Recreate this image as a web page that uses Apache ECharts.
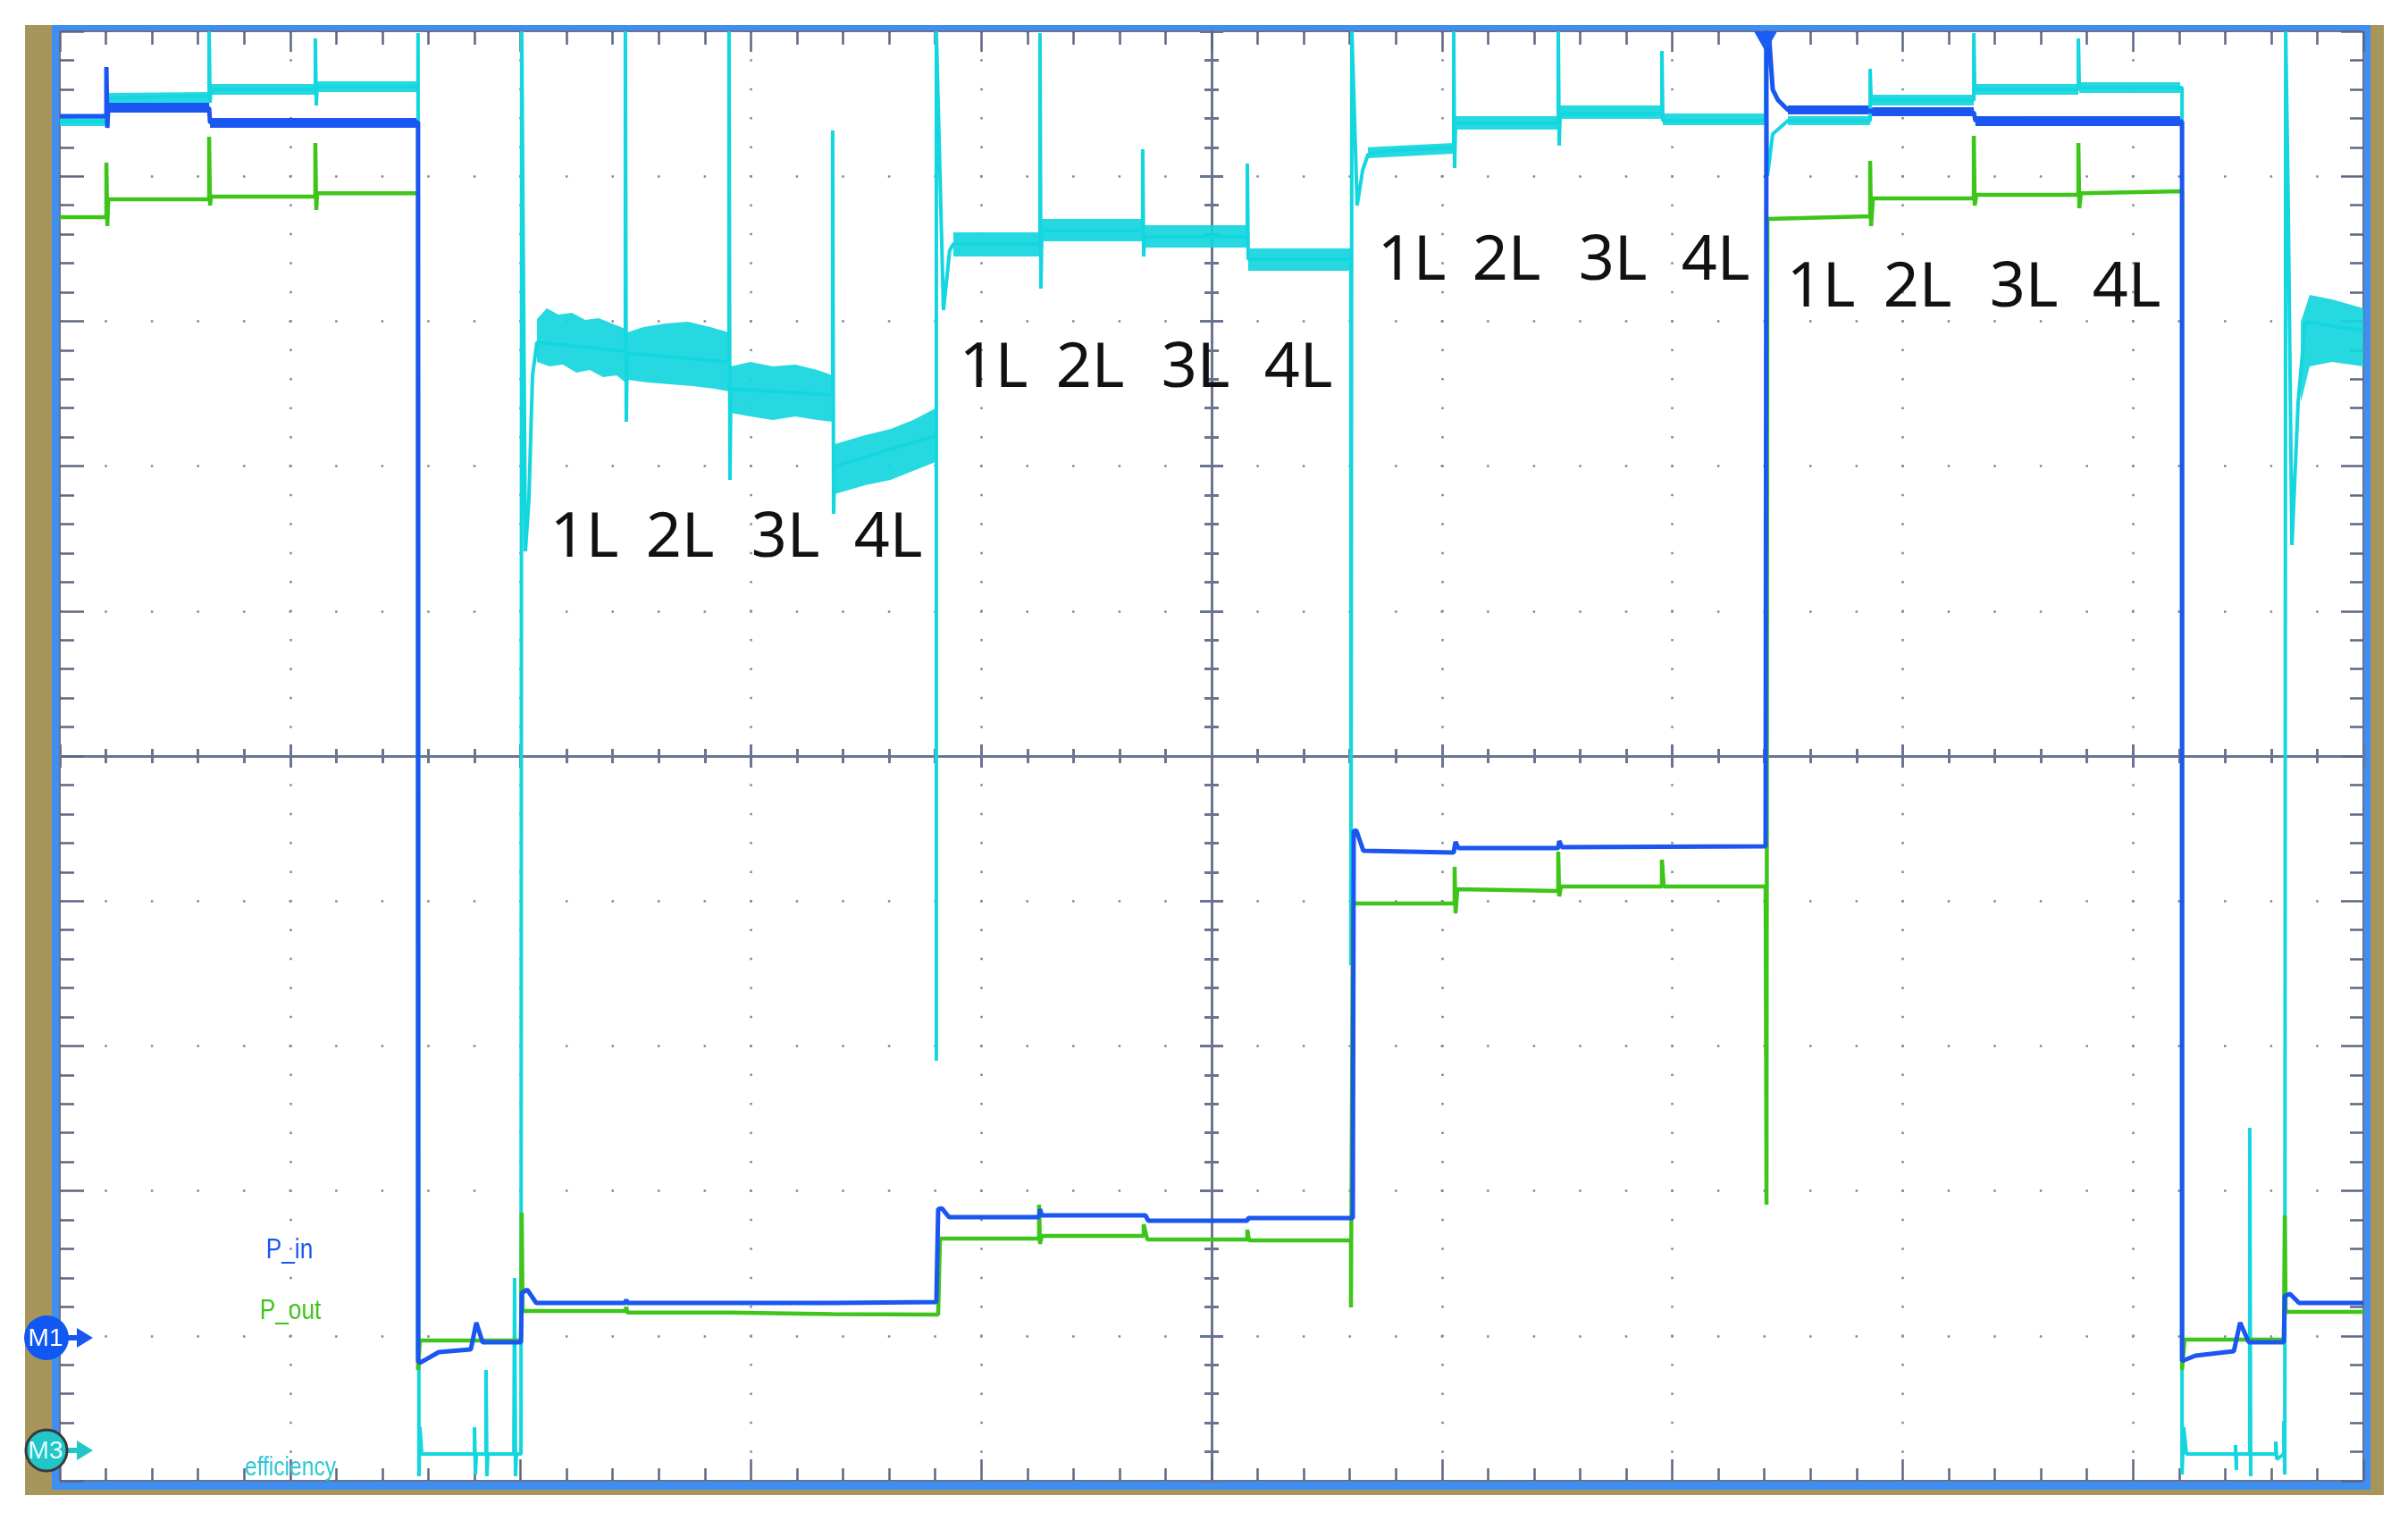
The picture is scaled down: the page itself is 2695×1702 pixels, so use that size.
<!DOCTYPE html>
<html>
<head>
<meta charset="utf-8">
<script src="https://cdn.jsdelivr.net/npm/echarts@6/dist/echarts.min.js"></script>
<style>html,body{margin:0;padding:0;background:#fff}#c{width:2695px;height:1702px}</style>
</head>
<body>
<div id="c"></div>
<script>
// ---- values in oscilloscope divisions (x: time div from centre, y: div from centre) ----
const pInTrace = [
  [-5.000,4.414],[-4.798,4.414],[-4.798,4.753],[-4.794,4.334],[-4.790,4.476],[-4.352,4.470],[-4.348,4.371],[-3.445,4.371],
  [-3.445,-4.174],[-3.437,-4.186],[-3.417,-4.168],[-3.355,-4.112],[-3.216,-4.094],[-3.192,-3.909],[-3.165,-4.044],[-2.998,-4.044],
  [-2.995,-3.705],[-2.971,-3.681],[-2.932,-3.773],[-2.545,-3.773],[-2.541,-3.750],[-2.537,-3.773],[-2.095,-3.773],[-1.645,-3.773],[-1.195,-3.767],
  [-1.191,-3.767],[-1.187,-3.126],[-1.171,-3.120],[-1.140,-3.181],[-0.749,-3.181],[-0.745,-3.126],[-0.737,-3.169],[-0.287,-3.169],[-0.275,-3.206],[0.155,-3.206],[0.159,-3.187],[0.605,-3.187],
  [0.613,-3.187],[0.617,-0.518],[0.628,-0.512],[0.659,-0.654],[1.051,-0.666],[1.059,-0.592],[1.071,-0.635],[1.505,-0.635],[1.509,-0.586],[1.521,-0.629],[2.405,-0.623],
  [2.409,5.000],[2.420,4.969],[2.436,4.599],[2.459,4.525],[2.502,4.457],[2.859,4.451],[2.867,4.445],[3.309,4.439],[3.316,4.383],[4.213,4.377],
  [4.213,-4.174],[4.220,-4.186],[4.271,-4.137],[4.438,-4.106],[4.465,-3.909],[4.503,-4.044],[4.655,-4.044],[4.659,-3.724],[4.682,-3.711],[4.721,-3.773],[5.000,-3.773]
];
const pOutTrace = [
  [-5.000,3.718],[-4.798,3.718],[-4.798,4.094],[-4.794,3.656],[-4.790,3.841],[-4.352,3.841],[-4.352,4.273],[-4.348,3.798],[-4.344,3.859],[-3.891,3.859],[-3.891,4.229],[-3.887,3.767],[-3.883,3.883],[-3.445,3.883],
  [-3.445,-4.236],[-3.437,-4.032],[-2.998,-4.032],[-2.995,-3.150],[-2.991,-3.829],[-2.545,-3.829],[-2.541,-3.800],[-2.537,-3.840],[-2.095,-3.840],[-1.645,-3.850],[-1.195,-3.853],
  [-1.187,-3.853],[-1.179,-3.329],[-0.749,-3.329],[-0.749,-3.095],[-0.745,-3.366],[-0.737,-3.311],[-0.295,-3.311],[-0.295,-3.231],[-0.279,-3.335],[0.155,-3.335],[0.155,-3.268],[0.163,-3.342],[0.605,-3.342],
  [0.605,-3.804],[0.609,-2.472],[0.613,-0.999],[0.621,-1.017],[1.055,-1.017],[1.055,-0.765],[1.059,-1.085],[1.067,-0.919],[1.505,-0.931],[1.505,-0.660],[1.509,-0.968],[1.517,-0.900],[1.955,-0.900],[1.955,-0.715],[1.963,-0.900],[2.405,-0.900],
  [2.409,-3.095],[2.413,3.705],[2.859,3.724],[2.859,4.106],[2.863,3.656],[2.871,3.847],[3.309,3.847],[3.309,4.279],[3.313,3.798],[3.320,3.871],[3.763,3.871],[3.763,4.229],[3.767,3.779],[3.774,3.883],[4.213,3.896],
  [4.213,-4.236],[4.224,-4.026],[4.655,-4.026],[4.659,-3.169],[4.663,-3.835],[5.000,-3.835]
];
const effTrace = [
  [-5.000,4.377],[-4.798,4.377],[-4.794,4.538],[-4.352,4.556],[-4.352,5.000],[-4.348,4.507],[-4.344,4.599],[-3.891,4.599],[-3.891,4.951],[-3.887,4.488],[-3.883,4.618],[-3.445,4.618],
  [-3.445,4.988],[-3.441,-4.969],[-3.437,-4.630],[-3.429,-4.815],[-3.200,-4.815],[-3.200,-4.630],[-3.196,-4.957],[-3.192,-4.815],[-3.150,-4.815],[-3.150,-4.236],[-3.146,-4.969],[-3.142,-4.815],[-3.029,-4.815],[-3.026,-3.600],[-3.022,-4.969],[-3.018,-4.815],[-2.998,-4.815],
  [-2.995,-4.815],[-2.995,5.000],[-2.979,1.412],[-2.964,1.763],[-2.948,2.626],[-2.929,2.855],[-2.545,2.793],
  [-2.545,5.000],[-2.541,2.306],[-2.537,2.781],[-2.095,2.719],
  [-2.095,5.000],[-2.091,1.905],[-2.087,2.534],[-1.645,2.491],
  [-1.645,4.316],[-1.641,1.671],[-1.637,1.998],[-1.195,2.213],
  [-1.195,-2.102],[-1.195,5.000],[-1.164,3.076],[-1.137,3.490],[-1.121,3.533],[-0.745,3.533],
  [-0.745,4.988],[-0.741,3.224],[-0.737,3.625],[-0.299,3.625],
  [-0.299,4.186],[-0.295,3.446],[-0.291,3.582],[0.155,3.582],
  [0.155,4.088],[0.159,3.428],[0.605,3.428],
  [0.605,-1.443],[0.609,5.000],[0.632,3.798],[0.656,4.044],[0.679,4.149],[0.791,4.180],[1.051,4.199],
  [1.051,5.000],[1.055,4.057],[1.059,4.365],[1.505,4.365],
  [1.505,5.000],[1.509,4.211],[1.513,4.433],[1.955,4.433],
  [1.955,4.864],[1.959,4.383],[2.405,4.383],
  [2.405,5.000],[2.413,4.001],[2.436,4.291],[2.502,4.383],[2.859,4.383],
  [2.859,4.741],[2.863,4.525],[3.309,4.525],
  [3.309,4.988],[3.313,4.599],[3.763,4.599],
  [3.763,4.951],[3.767,4.612],[4.213,4.612],
  [4.213,-4.957],[4.220,-4.630],[4.232,-4.815],[4.445,-4.815],[4.445,-4.754],[4.449,-4.926],[4.449,-4.815],[4.507,-4.815],[4.507,-2.565],[4.511,-4.969],[4.511,-4.815],[4.620,-4.815],[4.620,-4.729],[4.624,-4.852],[4.655,-4.815],[4.655,-4.587],[4.659,-4.957],[4.663,5.000],[4.674,3.798],[4.690,1.455],[4.717,2.441],[4.748,2.996],[5.000,2.935]
];
// noise envelopes (upper / lower edges) of the efficiency trace, one entry per load step
const effBandUpper = [
  [[-5.000,4.408],[-4.798,4.408]],
  [[-4.794,4.575],[-4.352,4.580]],
  [[-4.344,4.636],[-3.891,4.636]],
  [[-3.883,4.655],[-3.445,4.655]],
  [[-2.929,3.015],[-2.886,3.089],[-2.836,3.046],[-2.777,3.058],[-2.719,3.009],[-2.661,3.021],[-2.603,2.984],[-2.545,2.947]],
  [[-2.537,2.922],[-2.467,2.959],[-2.370,2.984],[-2.273,2.996],[-2.176,2.959],[-2.095,2.922]],
  [[-2.087,2.688],[-2.002,2.719],[-1.905,2.688],[-1.808,2.700],[-1.711,2.663],[-1.645,2.626]],
  [[-1.637,2.152],[-1.505,2.213],[-1.393,2.256],[-1.296,2.318],[-1.199,2.398]],
  [[-1.121,3.613],[-0.745,3.613]],
  [[-0.737,3.705],[-0.299,3.705]],
  [[-0.291,3.662],[0.155,3.662]],
  [[0.159,3.502],[0.605,3.502]],
  [[0.679,4.200],[1.051,4.229]],
  [[1.059,4.414],[1.505,4.414]],
  [[1.513,4.488],[1.955,4.488]],
  [[1.959,4.433],[2.405,4.433]],
  [[2.502,4.414],[2.859,4.414]],
  [[2.863,4.562],[3.309,4.562]],
  [[3.313,4.636],[3.763,4.636]],
  [[3.767,4.649],[4.205,4.649]],
  [[4.729,2.996],[4.767,3.181],[4.864,3.150],[5.000,3.089]]
];
const effBandLower = [
  [[-5.000,4.346],[-4.798,4.346]],
  [[-4.794,4.501],[-4.352,4.507]],
  [[-4.344,4.562],[-3.891,4.562]],
  [[-3.883,4.581],[-3.445,4.581]],
  [[-2.929,2.719],[-2.874,2.688],[-2.816,2.700],[-2.758,2.645],[-2.700,2.663],[-2.642,2.614],[-2.583,2.626],[-2.545,2.577]],
  [[-2.537,2.596],[-2.448,2.577],[-2.351,2.565],[-2.254,2.552],[-2.157,2.534],[-2.095,2.515]],
  [[-2.087,2.367],[-2.002,2.343],[-1.905,2.318],[-1.808,2.343],[-1.711,2.318],[-1.645,2.306]],
  [[-1.637,1.806],[-1.505,1.868],[-1.393,1.905],[-1.296,1.967],[-1.199,2.028]],
  [[-1.121,3.446],[-0.745,3.446]],
  [[-0.737,3.551],[-0.299,3.551]],
  [[-0.291,3.508],[0.155,3.508]],
  [[0.159,3.348],[0.605,3.348]],
  [[0.679,4.125],[1.051,4.155]],
  [[1.059,4.322],[1.505,4.322]],
  [[1.513,4.396],[1.955,4.396]],
  [[1.959,4.353],[2.405,4.353]],
  [[2.502,4.353],[2.859,4.353]],
  [[2.863,4.488],[3.309,4.488]],
  [[3.313,4.562],[3.763,4.562]],
  [[3.767,4.575],[4.205,4.575]],
  [[4.729,2.441],[4.767,2.688],[4.864,2.719],[5.000,2.688]]
];
const pInBandUpper = [
  [[-4.790,4.507],[-4.352,4.507]],
  [[-4.348,4.402],[-3.445,4.402]],
  [[2.502,4.488],[2.859,4.488]],
  [[2.867,4.476],[3.309,4.476]],
  [[3.316,4.414],[4.205,4.414]]
];
const pInBandLower = [
  [[-4.790,4.439],[-4.352,4.439]],
  [[-4.348,4.334],[-3.445,4.334]],
  [[2.502,4.427],[2.859,4.427]],
  [[2.867,4.414],[3.309,4.414]],
  [[3.316,4.347],[4.205,4.347]]
];
const stepLabels = ['1L', '2L', '3L', '4L'];
const channelNames = ['P_in', 'P_out', 'efficiency'];
const markerNames = ['M1', 'M3'];

// ---- styling / layout ----
const C_IN = '#1b56f0', C_OUT = '#3dc51a', C_EFF = '#14d6de';
const GRID = {left: 67, top: 35, width: 2578, height: 1622};
const TICK = '#5e6682', AXL = '#6b7390', DOT = '#80869c';
const minorY = GRID.height / 50, minorX = GRID.width / 50;

function edgeAxis(pos, majorLen, minorLen, split, dotGap) {
  return {
    type: 'value', min: -5, max: 5, interval: 1, position: pos,
    axisLine: {show: true, onZero: false, lineStyle: {color: AXL, width: 2}},
    axisTick: {show: true, inside: true, length: majorLen, lineStyle: {color: TICK, width: 2.5}},
    minorTick: {show: true, splitNumber: 5, length: minorLen, lineStyle: {color: TICK, width: 2.5}},
    axisLabel: {show: false},
    splitLine: {show: split, lineStyle: {color: DOT, width: 2.5, type: [2.5, dotGap - 2.5], dashOffset: 1.25}},
    minorSplitLine: {show: false}
  };
}
function centreAxis(pos, inside) {
  return {
    type: 'value', min: -5, max: 5, interval: 1, position: pos,
    axisLine: {show: true, onZero: true, onZeroAxisIndex: 0, lineStyle: {color: '#6b7592', width: 3}},
    axisTick: {show: true, inside: inside, length: 13, lineStyle: {color: '#6b7592', width: 3}},
    minorTick: {show: true, splitNumber: 5, length: 8, lineStyle: {color: '#6b7592', width: 3}},
    axisLabel: {show: false}, splitLine: {show: false}
  };
}
function bandSeries(upper, lower, color, opacity) {
  return {
    type: 'custom', silent: true, z: 2,
    data: upper.map((seg, i) => [seg[0][0], seg[0][1], i]),
    encode: {x: 0, y: 1},
    renderItem: (params, api) => {
      const i = api.value(2);
      const pts = upper[i].map(p => api.coord(p))
        .concat(lower[i].slice().reverse().map(p => api.coord(p)));
      return {type: 'polygon', shape: {points: pts}, style: {fill: color, opacity: opacity}};
    }
  };
}
function traceSeries(data, color, width, z) {
  return {type: 'line', data: data, symbol: 'none', silent: true, z: z,
          lineStyle: {color: color, width: width}, itemStyle: {color: color}};
}

// frame decoration
const graphics = [
  {type: 'rect', shape: {x: 28, y: 28, width: 30, height: 1645}, style: {fill: '#a8955c'}, silent: true},
  {type: 'rect', shape: {x: 2653, y: 28, width: 15, height: 1645}, style: {fill: '#a8955c'}, silent: true},
  {type: 'rect', shape: {x: 28, y: 1667, width: 2640, height: 6}, style: {fill: '#a8955c'}, silent: true},
  {type: 'rect', shape: {x: 58, y: 28, width: 2595, height: 6}, style: {fill: '#3f8ff2'}, silent: true},
  {type: 'rect', shape: {x: 58, y: 28, width: 8, height: 1639}, style: {fill: '#3f8ff2'}, silent: true},
  {type: 'rect', shape: {x: 2646, y: 28, width: 7, height: 1639}, style: {fill: '#3f8ff2'}, silent: true},
  {type: 'rect', shape: {x: 58, y: 1658, width: 2595, height: 9}, style: {fill: '#3f8ff2'}, silent: true}
];
// step labels (1L..4L) for the four load sequences
const labelRows = [
  {y: 603, xs: [654, 761, 879, 994]},
  {y: 413, xs: [1112, 1220, 1338, 1453]},
  {y: 293, xs: [1580, 1686, 1805, 1920]},
  {y: 323, xs: [2038, 2146, 2265, 2380]}
];
labelRows.forEach(r => r.xs.forEach((x, k) => graphics.push({
  type: 'text', x: x, y: r.y, z: 50, silent: true,
  style: {text: stepLabels[k], fill: '#111111', font: '70px "Noto Sans", "Open Sans", sans-serif',
          textAlign: 'center', align: 'center', textVerticalAlign: 'middle', verticalAlign: 'middle'}
})));
// channel captions
[[324, 1399, C_IN, 32], [325, 1467, C_OUT, 32], [325, 1643, '#2cc8d2', 30]].forEach((c, k) => graphics.push({
  type: 'text', x: c[0], y: c[1], scaleX: 0.82, z: 50, silent: true,
  style: {text: channelNames[k], fill: c[2], font: c[3] + 'px "Liberation Sans", Arial, sans-serif',
          textAlign: 'center', align: 'center', textVerticalAlign: 'middle', verticalAlign: 'middle'}
}));
// M1 / M3 reference markers
[[1497, '#0f58f2', null, C_IN], [1623, '#22c6c8', '#3a3a3a', '#22c6c8']].forEach((m, k) => {
  graphics.push({type: 'rect', shape: {x: 74, y: m[0] - 3, width: 14, height: 6}, style: {fill: m[3]}, z: 60, silent: true});
  graphics.push({type: 'polygon', shape: {points: [[86, m[0] - 11], [104, m[0]], [86, m[0] + 11]]}, style: {fill: m[3]}, z: 60, silent: true});
  graphics.push({type: 'circle', shape: {cx: 52, cy: m[0], r: m[2] ? 23 : 25},
    style: {fill: m[1], stroke: m[2] || m[1], lineWidth: m[2] ? 3 : 0}, z: 61, silent: true});
  graphics.push({type: 'text', x: 51, y: m[0] + 1, z: 62, silent: true,
    style: {text: markerNames[k], fill: k === 0 ? '#ffffff' : '#e6ffff', font: '28px "Liberation Sans", Arial, sans-serif',
            textAlign: 'center', align: 'center', textVerticalAlign: 'middle', verticalAlign: 'middle'}});
});
// trigger marker
graphics.push({type: 'polygon', shape: {points: [[1963, 35], [1989, 35], [1976, 58]]}, style: {fill: '#1a5cf4'}, z: 60, silent: true});

const chart = echarts.init(document.getElementById('c'), null, {renderer: 'canvas', width: 2695, height: 1702});
chart.setOption({
  backgroundColor: '#ffffff',
  animation: false,
  grid: {left: GRID.left, top: GRID.top, width: GRID.width, height: GRID.height, containLabel: false, outerBoundsMode: 'none', show: false},
  xAxis: [
    edgeAxis('bottom', 24, 14, true, minorY),
    edgeAxis('top', 23, 15, false, minorY),
    centreAxis('bottom', true),
    centreAxis('bottom', false)
  ],
  yAxis: [
    edgeAxis('left', 27, 16, true, minorX),
    edgeAxis('right', 25, 15, false, minorX),
    centreAxis('left', true),
    centreAxis('left', false)
  ],
  series: [
    bandSeries(effBandUpper, effBandLower, C_EFF, 0.92),
    traceSeries(effTrace, C_EFF, 4, 3),
    traceSeries(pOutTrace, C_OUT, 4.5, 4),
    bandSeries(pInBandUpper, pInBandLower, C_IN, 1),
    traceSeries(pInTrace, C_IN, 5, 5)
  ],
  graphic: {elements: graphics}
});
</script>
</body>
</html>
